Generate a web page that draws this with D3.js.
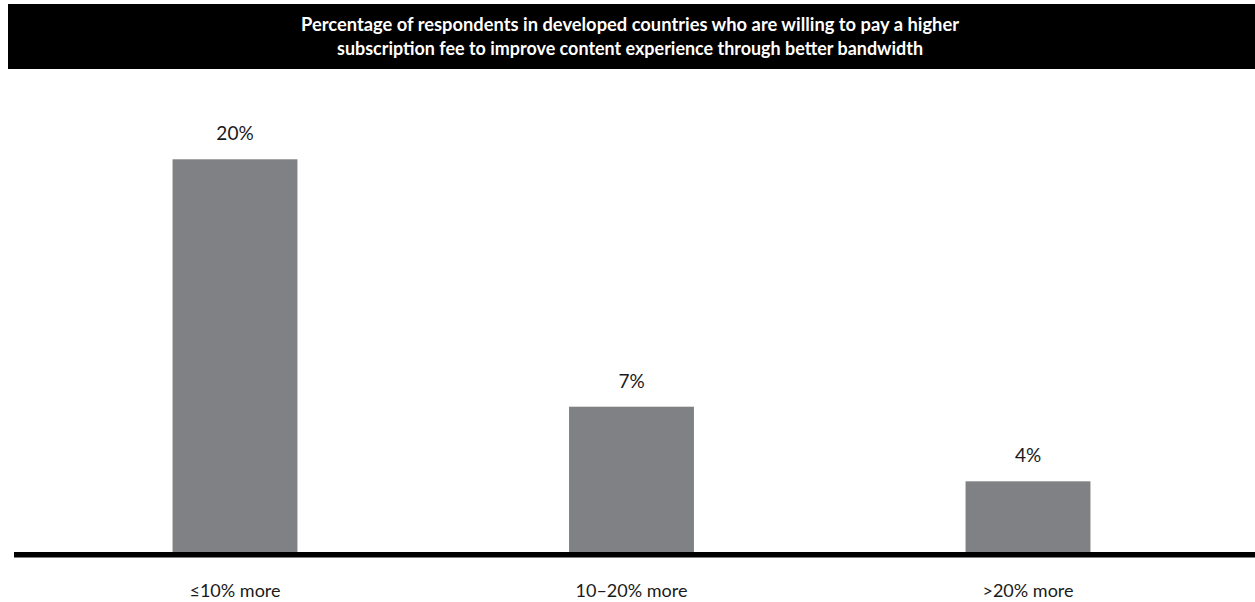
<!DOCTYPE html>
<html>
<head>
<meta charset="utf-8">
<script src="https://cdn.jsdelivr.net/npm/d3@7"></script>
<style>
  body { margin: 0; background: #fff; }
  svg { display: block; font-family: Lato, "Noto Sans", sans-serif; }
</style>
</head>
<body>
<svg width="1255" height="602"></svg>
<script>
const categories = ["≤10% more", "10–20% more", ">20% more"];
const values = [20, 7.4, 3.6];
const titleLines = [
  "Percentage of respondents in developed countries who are willing to pay a higher",
  "subscription fee to improve content experience through better bandwidth"
];

const svg = d3.select("svg");
const width = 1255;
const baseY = 552;

/* title bar */
svg.append("rect")
  .attr("x", 8).attr("y", 4)
  .attr("width", width - 8).attr("height", 65)
  .attr("fill", "#000");

const titleWidths = [658, 586];
svg.selectAll(".title")
  .data(titleLines)
  .join("text")
  .attr("class", "title")
  .attr("x", 630)
  .attr("y", (d, i) => 31 + i * 23.5)
  .attr("text-anchor", "middle")
  .attr("fill", "#fff")
  .attr("font-size", 18)
  .attr("font-weight", 700)
  .attr("textLength", (d, i) => titleWidths[i])
  .attr("lengthAdjust", "spacingAndGlyphs")
  .text(d => d);

/* scales */
const x = d3.scaleBand()
  .domain(categories)
  .range([36.75, 1226.25])
  .paddingInner(0.685)
  .paddingOuter(0.3425);

const y = d3.scaleLinear()
  .domain([0, 20])
  .range([baseY, 159.3]);

/* bars */
svg.selectAll(".bar")
  .data(values)
  .join("rect")
  .attr("class", "bar")
  .attr("x", (d, i) => x(categories[i]))
  .attr("y", d => y(d))
  .attr("width", x.bandwidth())
  .attr("height", d => baseY - y(d))
  .attr("fill", "#808184");

/* value labels */
svg.selectAll(".val")
  .data(values)
  .join("text")
  .attr("class", "val")
  .attr("x", (d, i) => x(categories[i]) + x.bandwidth() / 2)
  .attr("y", d => y(d) - 19)
  .attr("text-anchor", "middle")
  .attr("font-size", 19)
  .attr("fill", "#1a1a1a")
  .text(d => Math.round(d) + "%");

/* baseline */
svg.append("line")
  .attr("x1", 14).attr("x2", width)
  .attr("y1", baseY + 2.7).attr("y2", baseY + 2.7)
  .attr("stroke", "#000")
  .attr("stroke-width", 5.4);

/* category labels */
svg.selectAll(".cat")
  .data(categories)
  .join("text")
  .attr("class", "cat")
  .attr("x", d => x(d) + x.bandwidth() / 2)
  .attr("y", 597)
  .attr("text-anchor", "middle")
  .attr("font-size", 18)
  .attr("fill", "#1a1a1a")
  .text(d => d);
</script>
</body>
</html>
